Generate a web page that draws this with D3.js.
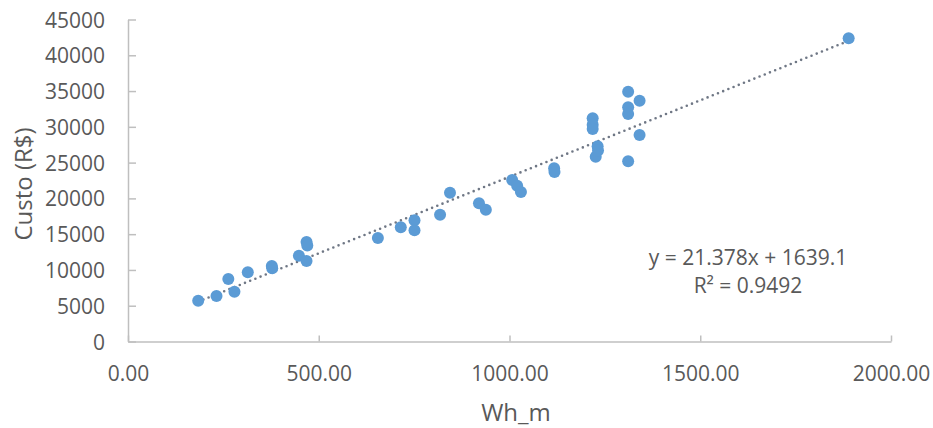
<!DOCTYPE html>
<html>
<head>
<meta charset="utf-8">
<script src="https://cdn.jsdelivr.net/npm/d3@7"></script>
<style>
  body { margin: 0; background: #fff; }
  text { font-family: "Open Sans", sans-serif; fill: #595959; }
  .axis path, .axis line { stroke: #bfbfbf; stroke-width: 1.5; }
</style>
</head>
<body>
<script>
// Wh_m vs Custo (R$)
var wh = [184, 232, 263, 279, 314, 377, 378, 448, 468, 470, 468, 655, 715, 751, 751, 818, 844, 920, 938,
  1007, 1020, 1030, 1117, 1118, 1226, 1231, 1232, 1218, 1218, 1218, 1311, 1341, 1311, 1311, 1341, 1311, 1889];
var custo = [5700, 6360, 8730, 6960, 9670, 10550, 10250, 11990, 13900, 13400, 11250, 14460, 15960, 16940, 15540, 17720, 20800, 19310, 18420,
  22570, 21780, 20890, 24200, 23700, 25830, 27300, 26700, 31190, 30300, 29700, 34910, 33650, 32730, 31790, 28860, 25180, 42370];

var xTicks = [0, 500, 1000, 1500, 2000];
var yTicks = [0, 5000, 10000, 15000, 20000, 25000, 30000, 35000, 40000, 45000];

var slope = 21.378, intercept = 1639.1;
var eqLabel = "y = 21.378x + 1639.1";
var r2Label = "R² = 0.9492";

var w = 933, h = 428;

var svg = d3.select("body").append("svg").attr("width", w).attr("height", h);

var x = d3.scaleLinear().domain([0, 2000]).range([128, 891]);
var y = d3.scaleLinear().domain([0, 45000]).range([341.5, 19.5]);

svg.append("g")
  .attr("class", "axis")
  .attr("transform", "translate(128,0)")
  .call(d3.axisLeft(y).tickValues(yTicks).tickSizeInner(-8).tickSizeOuter(0).tickPadding(23).tickFormat(d3.format("d")))
  .selectAll("text").style("font-size", "21px").attr("dy", "0.36em");

svg.append("g")
  .attr("class", "axis")
  .attr("transform", "translate(0,341.5)")
  .call(d3.axisBottom(x).tickValues(xTicks).tickSizeInner(-6).tickSizeOuter(0).tickPadding(25).tickFormat(d3.format(".2f")))
  .selectAll("text").style("font-size", "21px");

svg.selectAll(".axis text").attr("fill", "#595959").style("font-family", "'Open Sans', sans-serif");

// trendline
var xmin = d3.min(wh), xmax = d3.max(wh);
svg.append("line")
  .attr("x1", x(xmin)).attr("y1", y(slope * xmin + intercept))
  .attr("x2", x(xmax)).attr("y2", y(slope * xmax + intercept))
  .attr("stroke", "#6f7785")
  .attr("stroke-width", 2.6)
  .attr("stroke-linecap", "round")
  .attr("stroke-dasharray", "0 5.6");

svg.selectAll("circle")
  .data(wh)
  .enter().append("circle")
  .attr("cx", function(d) { return x(d); })
  .attr("cy", function(d, i) { return y(custo[i]); })
  .attr("r", 6)
  .attr("fill", "#5b9bd5");

// trendline label
svg.append("text")
  .attr("x", 748).attr("y", 265)
  .attr("text-anchor", "middle")
  .style("font-size", "21px")
  .text(eqLabel);
svg.append("text")
  .attr("x", 748).attr("y", 293)
  .attr("text-anchor", "middle")
  .style("font-size", "21px")
  .text(r2Label);

// axis titles
svg.append("text")
  .attr("x", 516).attr("y", 421)
  .attr("text-anchor", "middle")
  .style("font-size", "24px")
  .text("Wh_m");

svg.append("text")
  .attr("transform", "translate(32,184) rotate(-90)")
  .attr("text-anchor", "middle")
  .style("font-size", "24px")
  .text("Custo (R$)");
</script>
</body>
</html>
